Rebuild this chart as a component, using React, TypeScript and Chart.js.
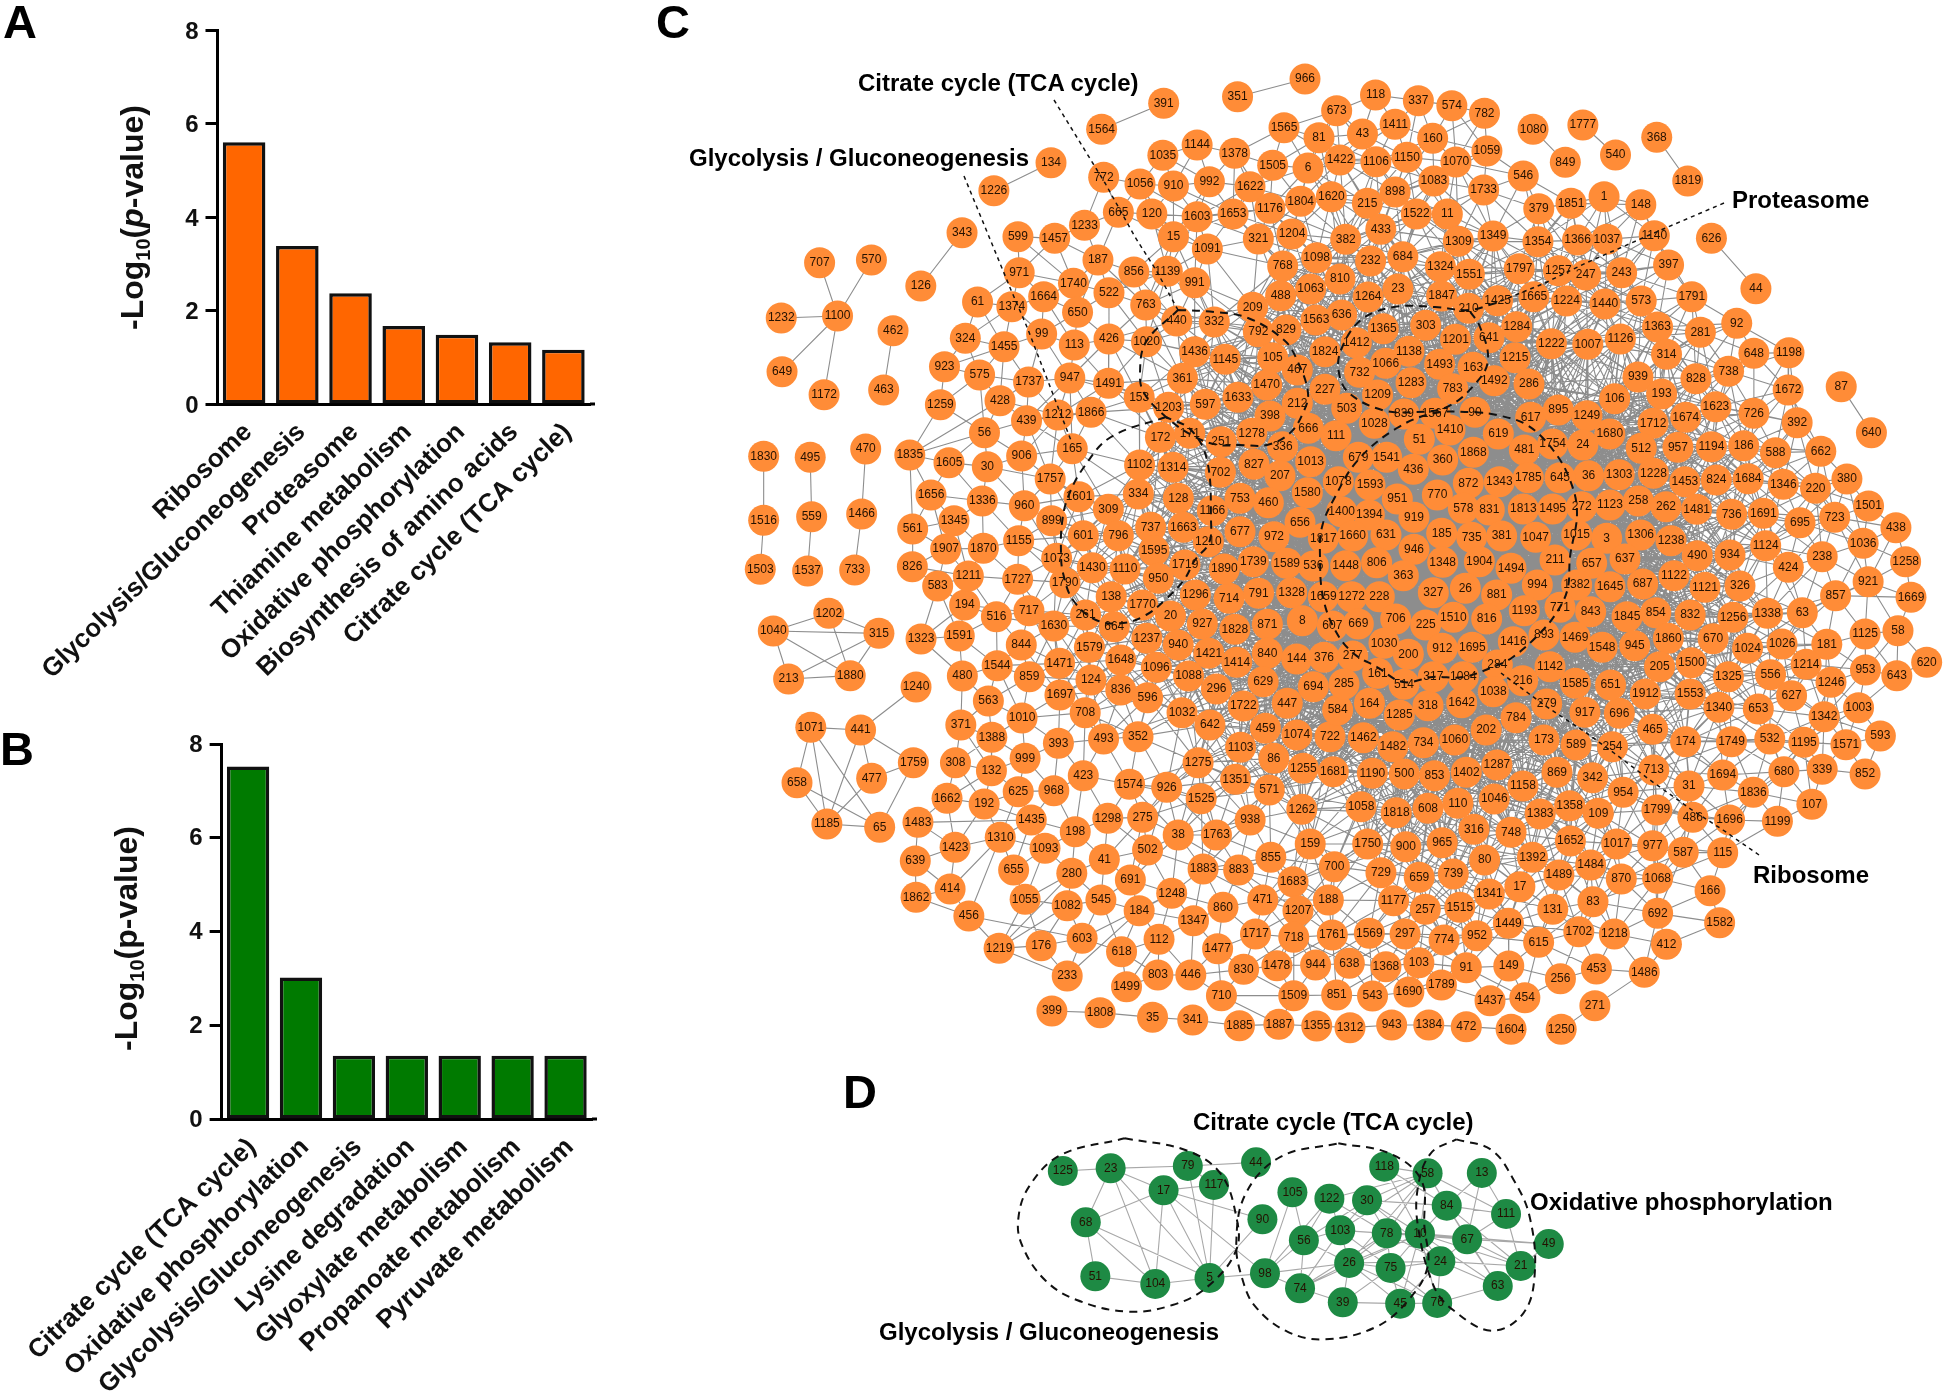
import React, { useEffect, useRef } from "react";
import { Chart, registerables } from "chart.js";
Chart.register(...registerables);

const FONT = "'Liberation Sans', Arial, sans-serif";

// ---------- bar panels ----------
const categoriesA = ["Ribosome","Glycolysis/Gluconeogenesis","Proteasome","Thiamine metabolism","Oxidative phosphorylation","Biosynthesis of amino acids","Citrate cycle (TCA cycle)"];
const valuesA = [5.6,3.38,2.37,1.67,1.48,1.32,1.16];
const categoriesB = ["Citrate cycle (TCA cycle)","Oxidative phosphorylation","Glycolysis/Gluconeogenesis","Lysine degradation","Glyoxylate metabolism","Propanoate metabolism","Pyruvate metabolism"];
const valuesB = [7.52,3.02,1.35,1.35,1.35,1.35,1.35];

// ---------- network C: [id, x, y] as read in successive crops of the picture ----------
type N = [number, number, number];
const netNW: N[] = [[1564,1082,268],[391,1234,190],[351,1415,170],[1565,1530,262],[134,958,368],[1226,818,452],[1035,1232,346],[1144,1316,315],[1378,1408,340],[1505,1502,375],[772,1087,412],[1056,1176,432],[910,1258,438],[992,1346,425],[1622,1440,440],[665,1123,517],[120,1205,522],[1603,1316,530],[1653,1404,522],[1176,1494,505],[1233,1040,556],[343,740,578],[599,877,590],[1457,967,595],[15,1258,590],[228,1171,607],[1091,1341,627],[321,1465,597],[707,391,668],[570,518,660],[187,1073,660],[856,1161,696],[1139,1243,694],[768,1524,678],[971,880,698],[1740,1013,730],[991,1310,728],[522,1100,758],[126,639,738],[61,778,786],[1374,862,800],[1664,940,770],[763,1190,795],[488,1518,765],[209,1452,802],[650,1023,817],[1100,435,828],[1232,297,834],[462,571,872],[440,1266,843],[332,1358,846],[792,1468,876],[829,1534,868],[324,748,895],[1455,843,920],[99,935,882],[113,1015,915],[426,1100,897],[1020,1192,905],[1436,1310,935],[1145,1385,958],[105,1500,952],[923,697,980],[649,299,995],[575,783,1005],[1737,903,1026],[947,1004,1014],[1491,1099,1030],[361,1280,1015],[463,548,1050],[1172,402,1064],[1259,687,1094],[428,833,1082],[1470,1486,1033],[1633,1416,1072],[597,1336,1093],[153,1174,1072],[1203,1246,1102],[1212,975,1125],[1866,1056,1117],[439,898,1142],[398,1494,1128],[696,1127,1168],[172,1226,1192],[171,1298,1180],[1278,1442,1180],[56,795,1178],[251,1375,1205],[336,1524,1222],[165,1010,1226],[1835,612,1245],[906,886,1248],[470,504,1227],[1830,254,1249],[495,368,1252],[1605,708,1268],[30,802,1280],[1102,1175,1275],[1314,1257,1282],[702,1373,1297],[827,1453,1273],[207,1520,1306],[1757,956,1317],[1516,254,1441]];
const netNE: N[] = [[118,185,165],[337,290,182],[574,372,197],[782,452,220],[1080,571,268],[1777,693,255],[368,874,292],[43,153,282],[1411,233,253],[160,325,295],[1059,458,333],[540,773,345],[849,650,367],[1106,186,365],[1150,262,352],[1070,382,366],[546,547,408],[1819,950,423],[1083,328,423],[1733,450,450],[898,233,456],[215,165,490],[379,585,506],[1851,664,490],[1,745,470],[148,835,494],[1522,285,522],[11,361,522],[433,198,568],[382,112,598],[1309,388,604],[1349,473,588],[1354,583,605],[1366,680,600],[1037,752,598],[1140,868,587],[626,1008,595],[232,173,663],[684,252,650],[810,98,717],[1324,344,680],[1551,415,703],[1797,537,686],[1257,633,692],[247,700,705],[243,788,698],[397,903,675],[44,1117,746],[23,240,747],[1264,167,771],[1847,347,768],[210,413,805],[1425,484,782],[1665,573,770],[1224,653,783],[1440,747,792],[573,836,783],[1791,960,770],[1365,204,866],[303,308,856],[1201,381,898],[641,463,893],[1284,531,860],[1222,616,911],[1007,705,913],[1126,785,897],[1363,876,861],[281,981,877],[92,1070,850],[1412,138,908],[1138,267,934],[1066,210,970],[1493,342,973],[163,424,982],[1215,527,953],[314,898,943],[648,1112,940],[1198,1198,938],[738,1050,994],[732,146,997],[1283,272,1028],[783,374,1046],[1492,476,1022],[286,561,1032],[536,654,1015],[939,828,1011],[828,970,1016],[87,1326,1040],[1209,190,1065],[193,886,1062],[106,771,1076],[1672,1196,1050],[1623,1019,1100],[726,1112,1120],[1249,703,1127],[1680,759,1182],[1712,865,1150],[1674,945,1132],[392,1218,1148],[640,1400,1178],[662,1276,1234],[512,836,1225],[957,926,1222],[1194,1008,1220],[186,1087,1217],[588,1165,1238],[1303,782,1304],[1228,866,1300],[1453,943,1325],[824,1020,1320],[1684,1098,1316],[1346,1184,1333],[220,1263,1345],[380,1340,1317],[24,693,1215],[36,707,1307],[1501,1393,1398],[723,1310,1432],[438,1460,1463]];
const netSW: N[] = [[1503,53,88],[826,450,80],[1907,537,28],[1870,637,25],[1430,920,83],[284,447,197],[194,587,195],[138,970,170],[1770,1052,195],[1296,1190,165],[714,1278,175],[791,1355,160],[717,755,212],[516,670,230],[261,903,225],[20,1125,228],[664,978,260],[1630,820,258],[927,1208,252],[1828,1293,268],[871,1378,253],[1202,232,220],[1040,87,273],[315,363,280],[1323,473,297],[1591,573,288],[844,735,315],[1579,913,322],[1237,1063,295],[940,1145,315],[1421,1225,340],[1414,1298,367],[840,1378,340],[1648,995,360],[1096,1088,382],[1544,672,377],[1471,835,370],[859,756,410],[124,917,420],[1088,1172,408],[480,581,408],[213,127,417],[1880,288,407],[1240,460,441],[563,649,483],[1697,836,465],[836,995,450],[596,1065,473],[296,1245,447],[629,1367,425],[371,577,555],[708,902,518],[1010,737,534],[1032,1155,518],[1722,1315,498],[1071,185,562],[441,315,570],[1388,658,592],[393,832,610],[493,950,597],[352,1040,590],[642,1228,555],[459,1373,565],[1074,1455,585],[447,1430,490],[1759,453,668],[308,563,668],[999,745,655],[132,657,692],[423,897,707],[1275,1197,668],[1103,1308,622],[86,1395,655],[1255,1472,685],[658,149,728],[477,344,715],[625,727,755],[968,820,752],[1574,1018,733],[926,1115,742],[1525,1205,776],[1351,1295,718],[571,1383,750],[1662,541,775],[192,638,792],[1262,1468,808],[1185,227,852],[65,365,862],[1483,465,847],[1435,761,840],[1298,961,835],[275,1052,832],[938,1333,840],[198,876,875],[38,1145,885],[1763,1245,885],[159,1490,912],[1423,562,922],[1310,680,892],[1093,797,925],[502,1065,930],[639,458,963],[655,715,990],[41,952,958],[855,1387,952],[1883,1210,987],[883,1303,990],[280,867,1000],[691,1020,1020],[1683,1445,1025],[414,549,1047],[1862,460,1072],[1055,745,1078],[1082,855,1097],[545,943,1080],[1248,1128,1060],[471,1366,1080],[184,1043,1112],[860,1262,1102],[1207,1458,1112],[456,598,1128],[1347,1185,1142],[176,787,1217],[603,894,1195],[112,1095,1198],[1219,677,1225],[618,997,1235],[1477,1248,1226],[1717,1347,1182],[718,1447,1192],[233,855,1308],[803,1092,1305],[446,1178,1305],[830,1316,1288],[1478,1403,1277],[944,1504,1275],[1499,1010,1340],[710,1258,1367],[1509,1447,1367],[399,815,1413],[1808,941,1418],[35,1078,1432],[341,1183,1440],[1885,1305,1457],[1887,1408,1453],[1355,1507,1458]];
const netSE: N[] = [[1036,1367,10],[238,1260,50],[1258,1478,65],[921,1380,125],[857,1295,167],[1669,1492,172],[843,655,215],[1845,750,230],[854,825,218],[832,915,225],[1256,1027,232],[1338,1117,220],[63,1208,218],[58,1458,272],[1125,1372,282],[1469,612,292],[1548,685,322],[945,770,317],[1860,858,295],[670,975,296],[1024,1065,325],[1026,1155,312],[181,1272,313],[620,1533,367],[1214,1218,373],[205,835,380],[1500,918,368],[953,1373,390],[643,1455,407],[1246,1283,427],[1325,1015,410],[556,1125,404],[1585,615,430],[651,707,435],[1912,798,462],[1553,915,462],[627,1180,467],[1003,1355,503],[1340,990,502],[653,1093,507],[1342,1265,530],[279,540,492],[917,640,517],[696,730,520],[784,460,533],[164,77,490],[1285,155,525],[318,230,497],[1642,318,488],[202,382,570],[465,817,568],[593,1412,588],[174,903,605],[1749,1023,605],[532,1123,597],[1195,1212,607],[1571,1322,614],[1482,138,620],[734,218,608],[1060,300,600],[173,533,600],[589,617,615],[254,712,620],[869,567,697],[342,660,713],[713,820,690],[680,1160,695],[339,1260,688],[852,1372,702],[1694,1000,705],[1287,410,675],[500,168,702],[853,247,707],[1402,330,697],[1158,478,738],[31,912,738],[954,740,757],[1836,1080,757],[107,1233,793],[1046,403,777],[1818,147,818],[608,230,805],[110,308,790],[1383,523,822],[1358,600,797],[109,675,820],[1799,828,810],[486,922,832],[1696,1018,840],[1199,1143,844],[316,350,868],[748,447,877],[900,172,920],[965,267,908],[1652,602,903],[1017,723,912],[977,817,917],[587,897,937],[115,1000,938],[80,378,960],[1392,503,952],[1484,655,975],[729,107,998],[659,207,1012],[739,296,1002],[1489,572,1005],[870,735,1017],[1068,830,1015],[1177,140,1082],[257,223,1108],[1515,313,1102],[1341,390,1062],[17,470,1040],[131,556,1108],[83,661,1085],[166,967,1052],[692,830,1120],[1582,992,1148],[1449,440,1150],[297,170,1182],[774,272,1200],[952,358,1187],[615,519,1207],[1702,624,1175],[1218,717,1182],[412,853,1213],[1368,120,1280],[103,206,1268],[91,330,1283],[149,441,1278],[453,670,1287],[1486,795,1297],[256,576,1316],[1789,265,1335],[543,85,1368],[1690,180,1356],[1437,392,1382],[454,483,1373],[271,666,1397],[943,135,1455],[1384,232,1455],[472,330,1460],[1604,447,1468],[1250,578,1468]];
const netBandW: N[] = [[1656,453,45],[1336,607,63],[960,733,77],[1601,897,50],[334,1075,42],[128,1195,55],[753,1380,55],[460,1465,68],[559,95,110],[1466,245,102],[561,398,147],[1345,522,122],[899,815,122],[309,985,88],[1166,1297,92],[601,910,167],[796,1015,167],[737,1112,142],[1663,1210,142],[677,1380,155],[972,1482,170],[1155,716,182],[1870,610,205],[1907,497,207],[1210,1285,185],[1537,83,273],[733,224,270],[826,397,260],[1073,830,235],[1595,1122,212],[1719,1215,255],[1890,1333,267],[1739,1420,245],[1589,1512,250],[1430,937,263],[1110,1035,267],[950,1135,295],[1211,565,288],[1727,713,298],[583,473,318],[1790,855,308]];
const netBandE: N[] = [[272,875,80],[1123,960,75],[258,1045,63],[262,1128,80],[1481,1220,88],[736,1325,103],[1691,1420,100],[695,1530,128],[1015,860,165],[3,950,175],[1306,1052,165],[1238,1143,182],[1124,1427,197],[490,1222,227],[934,1320,225],[424,1495,262],[211,795,240],[657,905,250],[637,1005,237],[1122,1152,287],[1121,1245,322],[326,1350,318],[1645,960,320],[687,1058,312],[994,742,315],[1382,860,315]];
const netColN: N[] = [[966,195,57],[673,290,152],[81,237,233],[1565,132,203],[1505,98,316],[6,204,324],[1422,300,300],[1622,30,380],[1176,90,445],[1804,182,424],[1620,274,410],[321,55,537],[1204,156,522],[768,128,618],[1098,230,593],[488,122,707],[1063,212,687],[209,38,742],[792,55,815],[829,138,810],[1563,228,780],[636,305,765],[105,98,893],[1824,255,875],[467,172,930],[1470,80,975],[227,255,988],[212,172,1030],[503,320,1045],[398,90,1068],[1278,35,1120],[666,205,1105],[111,288,1127],[336,128,1160],[1013,212,1205],[827,42,1213],[207,120,1247],[1580,202,1298]];
const netColS: N[] = [[722,150,530],[1462,250,533],[1681,160,635],[1190,277,640],[1058,243,740],[1750,263,852],[584,173,450],[700,163,920],[188,145,1020],[1761,157,1125],[1569,268,1120],[638,208,1210],[851,170,1305],[1312,210,1403]];
const netCore: N[] = [[1028,283,70],[839,372,42],[1567,465,40],[90,585,37],[617,752,52],[895,835,30],[51,418,118],[1410,510,90],[619,655,102],[1754,818,132],[481,733,150],[1541,320,172],[679,235,172],[360,488,180],[436,400,208],[1868,580,157],[872,565,250],[1343,658,245],[1785,745,233],[645,840,233],[1078,175,245],[1593,270,255],[770,472,285],[951,352,297],[578,550,325],[831,628,330],[1813,730,327],[1495,818,327],[1400,185,335],[1394,268,345],[919,402,352],[656,60,367],[185,485,400],[735,575,412],[381,665,408],[1047,767,412],[1817,130,415],[1660,218,408],[631,318,405],[946,402,448],[1348,488,487],[1904,598,485],[1494,693,505],[536,100,498],[1448,197,497],[806,290,488],[363,370,527],[1589,20,490],[1328,35,578],[1659,130,590],[1272,215,590],[228,298,590],[327,460,578],[26,556,565],[881,650,585],[8,67,662],[607,157,678],[669,235,672],[706,347,657],[225,437,675],[1510,520,652],[816,620,657],[1193,733,632],[771,840,622],[893,792,705],[1469,885,712],[144,50,777],[376,132,772],[277,218,768],[1030,312,730],[200,385,763],[912,487,745],[1695,577,742],[1416,700,725],[284,652,795],[1142,810,800],[161,293,820],[514,372,853],[317,460,830],[1084,550,830],[1038,640,875],[216,728,842],[694,100,860],[285,192,852]];

// links that can be followed by eye at the edge of network C: [from, to]
const netSmallParts = [[351,966],[1564,391],[134,1226],[343,126],[1100,707],[1100,570],[1100,1232],[1100,649],[1100,1172],[462,463],[1830,1516],[1516,1503],[495,559],[559,1537],[470,1466],[1466,733],[1040,1202],[1040,315],[1040,213],[1040,1880],[1202,315],[1202,1880],[315,213],[315,1880],[213,1880],[1071,441],[1071,658],[1071,1185],[1071,65],[441,1240],[441,1759],[441,477],[441,1185],[658,1185],[658,65],[477,1759],[477,1185],[1759,65],[1185,65],[1080,849],[1777,540],[368,1819],[626,44],[87,640],[399,1808],[1808,35],[35,341],[341,1885],[1885,1887],[1887,1355],[1355,1312],[1312,943],[943,1384],[1384,472],[472,1604],[1250,271]];
const netRimLinks = [[1,1037],[1,1366],[148,1140],[397,573],[573,1791],[92,1198],[648,1198],[648,1672],[1198,1672],[1672,726],[1672,392],[1672,1623],[1258,921],[921,857],[857,1669],[857,1125],[58,1669],[58,643],[58,620],[1003,1342],[1003,643],[339,852],[339,680],[107,1199],[166,1582],[166,1068],[1486,453],[1486,271],[412,1218],[1702,1218],[1835,1259],[1835,56],[1835,561],[1835,428],[1259,575],[923,1455],[61,324],[324,1455],[1455,99],[599,1740],[1457,1740],[772,1056],[772,665],[665,1233],[1035,910],[1144,992],[1378,992],[1378,1505],[1565,81],[1505,6],[456,603],[1310,456],[1310,1423],[1423,639],[414,1862],[414,1310],[1219,233],[1219,280],[233,603],[603,1248],[710,1509],[1509,1887],[710,1887],[803,446],[1499,803],[1483,1435],[1662,192],[480,1544],[284,194],[1323,194],[1591,1323],[118,673],[118,1411],[337,1411],[574,160],[782,1059],[782,574],[1059,1733],[546,1059],[379,1733],[1733,1070],[1219,1082],[233,184]];
const netDetached = [343,126,1564,391,134,1226,351,966];

// dashed outlines and leaders in network C
const dashTcaLeader = [[1054,100],[1105,183],[1135,237],[1156,270],[1178,310]];
const dashGlyLeader = [[964,176],[1011,290],[1027,327],[1056,402],[1072,443]];
const dashProLeader = [[1724,203],[1654,233],[1586,263],[1545,283],[1496,303]];
const dashRibLeader = [[1759,855],[1723,830],[1692,810],[1650,780],[1614,753],[1585,732],[1547,707],[1528,693],[1501,673]];
const dashLoopS = [[1178,310],[1214,312],[1248,318],[1284,340],[1297,360],[1308,393],[1303,413],[1290,433],[1267,445],[1240,445],[1219,445],[1195,437],[1166,417],[1144,393],[1140,373],[1146,342],[1178,310]];
const dashLoopG = [[1166,417],[1111,437],[1084,467],[1068,497],[1062,523],[1061,553],[1063,573],[1073,600],[1096,620],[1123,623],[1146,615],[1165,600],[1184,580],[1195,560],[1209,543],[1211,520],[1207,460],[1191,430],[1166,417]];
const dashLoopP = [[1496,303],[1469,310],[1435,307],[1394,307],[1361,320],[1341,350],[1339,373],[1349,393],[1382,410],[1414,412],[1447,407],[1476,383],[1488,360],[1480,327],[1469,310]];
const dashLoopR = [[1475,412],[1497,415],[1527,425],[1553,450],[1570,480],[1577,513],[1570,557],[1568,587],[1560,607],[1543,630],[1513,657],[1493,667],[1463,677],[1433,677],[1403,682],[1377,667],[1353,653],[1335,630],[1323,597],[1320,557],[1322,527],[1335,497],[1358,460],[1397,428],[1435,413],[1475,412]];

// ---------- network D, as read in its crop ----------
const netD: N[] = [[125,318,333],[23,393,325],[79,514,318],[44,621,307],[117,555,375],[17,476,391],[68,354,487],[51,369,649],[104,463,672],[5,548,654],[90,631,478],[98,635,640],[105,678,397],[122,736,416],[30,795,421],[118,822,320],[58,890,340],[13,975,339],[84,920,437],[111,1013,462],[56,696,541],[103,753,511],[78,826,520],[10,878,521],[67,952,538],[49,1080,552],[26,767,609],[75,832,624],[24,910,604],[21,1036,618],[74,690,685],[39,757,727],[45,847,731],[76,905,729],[63,1000,678]];
const linksD = [[125,23],[23,79],[79,44],[23,68],[23,104],[23,5],[23,17],[17,68],[17,117],[17,5],[17,104],[17,98],[79,5],[117,5],[79,117],[68,51],[68,104],[68,5],[51,104],[104,5],[5,90],[5,98],[17,90],[98,105],[98,56],[98,26],[98,74],[98,122],[105,56],[122,56],[122,103],[122,78],[30,56],[30,103],[30,78],[30,10],[30,24],[58,30],[58,103],[58,78],[58,10],[58,26],[58,122],[118,10],[118,58],[118,84],[13,84],[13,111],[13,67],[84,111],[84,30],[84,10],[84,67],[84,21],[111,67],[111,21],[58,84],[58,111],[58,67],[56,103],[56,74],[56,26],[103,78],[103,26],[103,75],[103,74],[78,10],[78,26],[78,75],[78,24],[78,74],[78,67],[10,67],[10,24],[10,75],[10,26],[10,74],[10,45],[10,76],[10,21],[10,63],[10,49],[67,49],[67,21],[67,63],[67,24],[24,21],[24,75],[24,26],[24,45],[24,76],[24,63],[26,75],[26,74],[26,39],[26,45],[26,76],[75,45],[75,76],[75,39],[74,39],[39,45],[45,76],[76,63],[63,21],[21,49],[63,84]];
const dashDGly = [[415,235],[510,270],[565,340],[590,470],[590,570],[545,680],[490,735],[420,755],[340,720],[290,660],[255,560],[248,480],[265,380],[315,285],[415,235]];
const dashDTca = [[750,250],[830,280],[880,360],[885,500],[890,620],[860,720],[810,800],[730,838],[670,815],[620,740],[600,660],[590,550],[605,400],[660,290],[750,250]];
const dashDOxi = [[935,238],[990,270],[1025,360],[1050,470],[1058,640],[1040,760],[990,812],[930,750],[900,680],[875,500],[875,380],[895,280],[935,238]];

// ---------- assembling ----------
const crop = (t: N[], x0: number, y0: number, sx: number, sy: number): N[] => t.map(([k, x, y]) => [k, x0 + x / sx, y0 + y / sy]);
const placedC = [
  ...crop(netNW, 660, 40, 2.45, 3), ...crop(netNE, 1300, 40, 2.45, 3),
  ...crop(netSW, 740, 540, 2.613, 3), ...crop(netSE, 1340, 540, 2.613, 3),
  ...crop(netBandW, 780, 480, 3, 3), ...crop(netBandE, 1290, 480, 3, 3),
  ...crop(netColN, 1240, 60, 3, 3), ...crop(netColS, 1280, 560, 3, 3), ...crop(netCore, 1280, 400, 3, 3),
];
const mapC = new Map<number, N>();
placedC.forEach((n) => mapC.set(n[0], n));
const nodesC = [...mapC.values()];
const nodesD = crop(netD, 860, 1060, 1.568, 3);
const mapD = new Map<number, N>(nodesD.map((n) => [n[0], n]));

const smallIds = new Set<number>([...netSmallParts.flat(), ...netDetached]);
const HUB = [1450, 550];
const reach = (n: N) => {
  const r = Math.hypot(n[1] - HUB[0], n[2] - HUB[1]);
  return r < 170 ? 190 : r < 240 ? 130 : r < 330 ? 95 : r < 420 ? 74 : 58;
};
// The dense core cannot be read link by link: there links join neighbouring nodes.
const coreLinks = (): number[][] => {
  const main = nodesC.filter((n) => !smallIds.has(n[0]));
  const out: number[][] = [];
  for (let i = 0; i < main.length; i++) for (let j = i + 1; j < main.length; j++) {
    const a = main[i], b = main[j];
    if (Math.hypot(a[1] - b[1], a[2] - b[2]) < (reach(a) + reach(b)) / 2) out.push([a[0], b[0]]);
  }
  return out;
};
const segs = (links: number[][], m: Map<number, N>) => {
  const pts: any[] = [];
  links.forEach(([a, b]) => {
    const p = m.get(a), q = m.get(b);
    if (!p || !q) return;
    pts.push({ x: p[1], y: p[2] }, { x: q[1], y: q[2] }, { x: q[1], y: null });
  });
  return pts;
};
const xy = (l: number[][]) => l.map(([x, y]) => ({ x, y }));
const xyD = (l: number[][]) => l.map(([x, y]) => ({ x: 860 + x / 1.568, y: 1060 + y / 3 }));

const dashSet = (data: any[], leader = false) => ({
  data, showLine: true, tension: leader ? 0 : 0.38, pointRadius: 0, borderColor: "#111",
  borderWidth: leader ? 1.5 : 2, borderDash: leader ? [4, 4] : [8, 6], order: 1, fill: false,
});

function BarPanel(p: any) {
  const ref = useRef<HTMLCanvasElement>(null);
  useEffect(() => {
    const title = {
      id: "title",
      afterDraw(c: any) {
        const g = c.ctx;
        g.save();
        g.translate(p.titleX, p.titleY);
        g.rotate(-Math.PI / 2);
        g.fillStyle = "#111";
        g.textBaseline = "alphabetic";
        let x = 0;
        const put = (s: string, f: string, dy = 0) => { g.font = f; g.fillText(s, x, dy); x += g.measureText(s).width; };
        const b = `bold 32px ${FONT}`;
        put("-Log", b);
        put("10", `bold 20px ${FONT}`, 7);
        put("(", b);
        put("p", p.italic ? `italic bold 32px ${FONT}` : b);
        put("-value)", b);
        g.restore();
        const sc = c.scales.x;
        g.save();
        g.strokeStyle = "#000"; g.lineWidth = 3;
        g.beginPath(); g.moveTo(sc.right, sc.top); g.lineTo(sc.right + 5, sc.top); g.stroke();
        g.restore();
      },
    };
    const chart = new Chart(ref.current!, {
      type: "bar",
      data: { labels: p.labels, datasets: [{ data: p.values, backgroundColor: p.color, borderColor: "#111", borderWidth: 3.5, borderSkipped: false, barPercentage: 0.8, categoryPercentage: 1 }] },
      options: {
        animation: false, responsive: false, events: [],
        layout: { padding: { left: 0, top: p.top, right: p.w - p.right, bottom: 0 } },
        plugins: { legend: { display: false }, tooltip: { enabled: false } },
        scales: {
          x: {
            afterFit: (s: any) => { s.height = p.h - p.bottom; },
            grid: { drawOnChartArea: false, drawTicks: false },
            border: { display: true, color: "#000", width: 3 },
            ticks: { autoSkip: false, minRotation: 44, maxRotation: 44, padding: p.labelPad, labelOffset: 4, color: "#111", font: { family: FONT, weight: "bold", size: 26 } },
          },
          y: {
            min: 0, max: 8,
            afterFit: (s: any) => { s.width = p.left; },
            grid: { drawOnChartArea: false, tickLength: 12, tickWidth: 3, tickColor: "#000" },
            border: { display: true, color: "#000", width: 3 },
            ticks: { stepSize: 2, padding: 7, labelOffset: p.tickShift, color: "#111", font: { family: FONT, weight: "bold", size: 24 } },
          },
        },
      },
      plugins: [title],
    } as any);
    return () => chart.destroy();
  }, []);
  return <canvas ref={ref} width={p.w} height={p.h} style={{ position: "absolute", left: 0, top: p.y, width: p.w, height: p.h }} />;
}

function NetPanel(p: any) {
  const ref = useRef<HTMLCanvasElement>(null);
  useEffect(() => {
    const ids = {
      id: "ids",
      afterDatasetsDraw(c: any) {
        const g = c.ctx;
        const meta = c.getDatasetMeta(1);
        g.save();
        g.font = `12px ${FONT}`;
        g.fillStyle = "#241100";
        g.textAlign = "center";
        g.textBaseline = "middle";
        meta.data.forEach((el: any, i: number) => g.fillText(String(p.nodes[i][0]), el.x, el.y));
        g.restore();
      },
    };
    const chart = new Chart(ref.current!, {
      type: "scatter",
      data: {
        datasets: [
          { data: p.edges, showLine: true, pointRadius: 0, borderColor: p.edgeColor, borderWidth: 1.1, order: 3, spanGaps: false },
          { data: p.nodes.map((n: N) => ({ x: n[1], y: n[2] })), pointRadius: p.radius, pointBackgroundColor: p.color, pointBorderWidth: 0, order: 2 },
          ...p.dashes,
        ],
      },
      options: {
        animation: false, responsive: false, events: [],
        layout: { padding: 0, autoPadding: false },
        plugins: { legend: { display: false }, tooltip: { enabled: false } },
        scales: {
          x: { type: "linear", display: false, min: p.x, max: p.x + p.w },
          y: { type: "linear", display: false, min: p.y, max: p.y + p.h, reverse: true },
        },
      },
      plugins: [ids],
    } as any);
    return () => chart.destroy();
  }, []);
  return <canvas ref={ref} width={p.w} height={p.h} style={{ position: "absolute", left: p.x, top: p.y, width: p.w, height: p.h }} />;
}

const Tag = ({ x, y, size = 24, children }: any) => (
  <div style={{ position: "absolute", left: x, top: y, transform: "translateY(-50%)", font: `bold ${size}px ${FONT}`, color: "#000", whiteSpace: "nowrap", lineHeight: 1 }}>{children}</div>
);

export default function App() {
  const edgesC = segs([...netSmallParts, ...netRimLinks, ...coreLinks()], mapC);
  const edgesD = segs(linksD, mapD);
  const dashC = [
    dashSet(xy(dashTcaLeader), true), dashSet(xy(dashGlyLeader), true), dashSet(xy(dashProLeader), true), dashSet(xy(dashRibLeader), true),
    dashSet(xy(dashLoopS)), dashSet(xy(dashLoopG)), dashSet(xy(dashLoopP)), dashSet(xy(dashLoopR)),
  ];
  const dashD = [dashSet(xyD(dashDGly)), dashSet(xyD(dashDTca)), dashSet(xyD(dashDOxi))];
  return (
    <div style={{ position: "absolute", left: 0, top: 0, width: 1944, height: 1399, background: "#fff", overflow: "hidden" }}>
      <BarPanel labels={categoriesA} values={valuesA} color="#FF6600" y={0} w={640} h={700} left={217.5} right={590} top={30} bottom={404} labelPad={13} tickShift={2} titleX={143} titleY={330} italic />
      <BarPanel labels={categoriesB} values={valuesB} color="#007A00" y={700} w={640} h={699} left={220.5} right={592} top={44} bottom={419} labelPad={13} tickShift={1} titleX={137} titleY={351} />
      <NetPanel nodes={nodesC} edges={edgesC} edgeColor="#8d8d8d" color="#FF8C37" radius={15.5} dashes={dashC} x={640} y={0} w={1304} h={1060} />
      <NetPanel nodes={nodesD} edges={edgesD} edgeColor="#a8a8a8" color="#1E8A44" radius={15} dashes={dashD} x={860} y={1060} w={1084} h={339} />
      <Tag x={3} y={21} size={47}>A</Tag>
      <Tag x={0} y={748} size={47}>B</Tag>
      <Tag x={656} y={21} size={47}>C</Tag>
      <Tag x={843} y={1091} size={47}>D</Tag>
      <Tag x={858} y={83}>Citrate cycle (TCA cycle)</Tag>
      <Tag x={689} y={158}>Glycolysis / Gluconeogenesis</Tag>
      <Tag x={1732} y={200}>Proteasome</Tag>
      <Tag x={1753} y={875}>Ribosome</Tag>
      <Tag x={1193} y={1122}>Citrate cycle (TCA cycle)</Tag>
      <Tag x={1530} y={1202}>Oxidative phosphorylation</Tag>
      <Tag x={879} y={1332}>Glycolysis / Gluconeogenesis</Tag>
    </div>
  );
}
